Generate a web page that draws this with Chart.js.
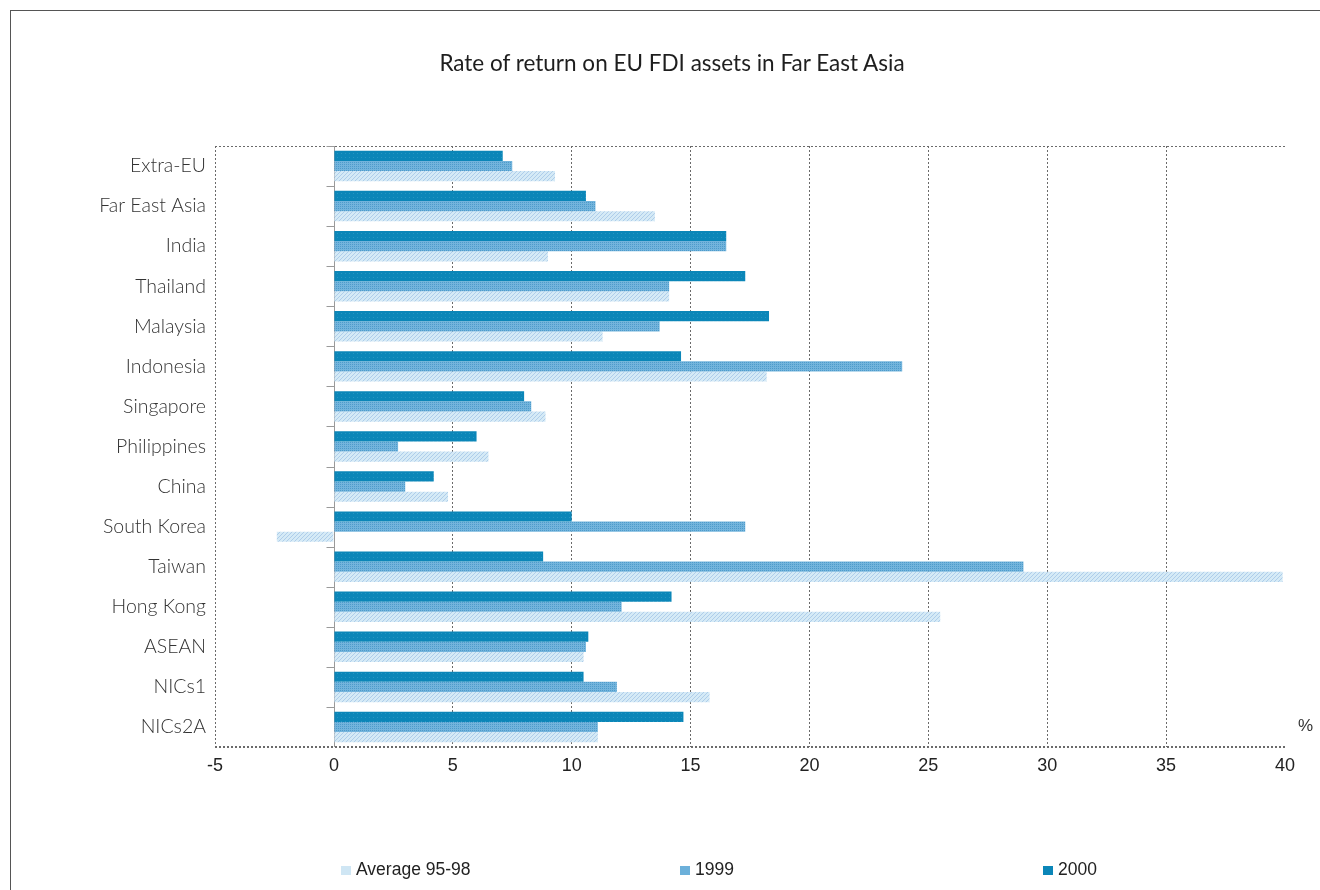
<!DOCTYPE html>
<html>
<head>
<meta charset="utf-8">
<title>Rate of return on EU FDI assets in Far East Asia</title>
<script src="https://cdn.jsdelivr.net/npm/chart.js@4.4.1/dist/chart.umd.min.js"></script>
<style>
  html, body { margin: 0; padding: 0; background: #fff; }
  #wrap { position: relative; width: 1320px; height: 890px; overflow: hidden; }
  #frame { position: absolute; left: 10px; top: 10px; width: 1320px; height: 890px;
           border-left: 1px solid #555; border-top: 1px solid #555; }
  #chart { position: absolute; left: 0; top: 0; }
  #title { position: absolute; left: 372px; width: 600px; top: 49px; text-align: center; color: #1e1e1e;
           font: 22.5px Lato, "Noto Sans", sans-serif; }
  #pct { position: absolute; left: 1298px; top: 716px; color: #333;
         font: 17px "Liberation Sans Narrow", "Liberation Sans", sans-serif; }
  .leg { position: absolute; top: 859px; color: #222; white-space: nowrap;
         font: 17.5px "Liberation Sans Narrow", "Liberation Sans", sans-serif; }
  .leg i { display: inline-block; width: 10px; height: 9px; margin-right: 5px; vertical-align: 0px; }
</style>
</head>
<body>
<div id="wrap">
  <div id="frame"></div>
  <canvas id="chart" width="1320" height="890"></canvas>
  <div id="title">Rate of return on EU FDI assets in Far East Asia</div>
  <div id="pct">%</div>
  <div id="legend"></div>
</div>
<script>
const categories = ["Extra-EU", "Far East Asia", "India", "Thailand", "Malaysia", "Indonesia",
  "Singapore", "Philippines", "China", "South Korea", "Taiwan", "Hong Kong", "ASEAN", "NICs1", "NICs2A"];

const avg9598 = [9.3, 13.5, 9.0, 14.1, 11.3, 18.2, 8.9, 6.5, 4.8, -2.4, 39.9, 25.5, 10.5, 15.8, 11.1];
const y1999   = [7.5, 11.0, 16.5, 14.1, 13.7, 23.9, 8.3, 2.7, 3.0, 17.3, 29.0, 12.1, 10.6, 11.9, 11.1];
const y2000   = [7.1, 10.6, 16.5, 17.3, 18.3, 14.6, 8.0, 6.0, 4.2, 10.0, 8.8, 14.2, 10.7, 10.5, 14.7];

const xMin = -5, xMax = 40, xStep = 5;

// little textures like the printed chart
function makePattern(bg, fg, kind) {
  const c = document.createElement("canvas");
  c.width = 4; c.height = 4;
  const g = c.getContext("2d");
  g.fillStyle = bg;
  g.fillRect(0, 0, 4, 4);
  g.fillStyle = fg;
  if (kind === "diag") {
    g.fillRect(0, 3, 1, 1); g.fillRect(1, 2, 1, 1); g.fillRect(2, 1, 1, 1); g.fillRect(3, 0, 1, 1);
  } else if (kind === "cross") {
    g.fillRect(0, 0, 1, 1); g.fillRect(2, 2, 1, 1); g.fillRect(2, 0, 1, 1); g.fillRect(0, 2, 1, 1);
  } else {
    g.fillRect(1, 1, 1, 1);
  }
  return g.createPattern(c, "repeat");
}

const series = [
  { label: "2000", data: y2000, color: "#0b86b8", pattern: makePattern("#0b86b8", "#2596c2", "dots") },
  { label: "1999", data: y1999, color: "#6cb0da", pattern: makePattern("#73b4dc", "#4d9bcb", "cross") },
  { label: "Average 95-98", data: avg9598, color: "#cfe6f4", pattern: makePattern("#d5eaf6", "#aecdea", "diag") },
];

// dotted frame, zero line and the small ticks on it
const framePlugin = {
  id: "frame",
  beforeDatasetsDraw(chart) {
    const { ctx, chartArea: a, scales: { x, y } } = chart;
    const line = (x1, y1, x2, y2) => { ctx.beginPath(); ctx.moveTo(x1, y1); ctx.lineTo(x2, y2); ctx.stroke(); };
    ctx.save();
    ctx.strokeStyle = "#6a6a6a";
    ctx.setLineDash([2, 2]);
    ctx.lineWidth = 1;
    line(a.left, a.top + 0.5, a.right, a.top + 0.5);
    line(a.left + 0.5, a.top, a.left + 0.5, a.bottom);
    ctx.lineWidth = 2;
    line(a.left, a.bottom, a.right, a.bottom);
    ctx.setLineDash([]);
    ctx.lineWidth = 1;
    ctx.strokeStyle = "#9a9a9a";
    const x0 = Math.round(x.getPixelForValue(0)) + 0.5;
    line(x0, a.top, x0, a.bottom);
    const half = (y.getPixelForValue(1) - y.getPixelForValue(0)) / 2;
    for (let i = 0; i < categories.length; i++) {
      const yb = Math.round(y.getPixelForValue(i) - half) + 0.5;
      line(x0 - 8, yb, x0, yb);
    }
    ctx.restore();
  }
};

new Chart(document.getElementById("chart"), {
  type: "bar",
  data: {
    labels: categories,
    datasets: series.map(s => ({
      label: s.label,
      data: s.data,
      backgroundColor: s.pattern,
      borderWidth: 0,
      categoryPercentage: 0.76,
      barPercentage: 1.0,
    })),
  },
  options: {
    indexAxis: "y",
    responsive: false,
    animation: false,
    layout: { padding: { left: 0, right: 35, top: 146, bottom: 103 } },
    plugins: {
      legend: { display: false },
      tooltip: { enabled: false },
    },
    scales: {
      x: {
        min: xMin,
        max: xMax,
        ticks: {
          stepSize: xStep,
          padding: 8,
          color: "#222",
          font: { family: "'Liberation Sans Narrow', 'Liberation Sans', sans-serif", size: 18 },
        },
        grid: {
          drawTicks: false,
          color: ctx => (ctx.tick && [0, xMin, xMax].includes(ctx.tick.value)) ? "rgba(0,0,0,0)" : "#6a6a6a",
          lineWidth: 1,
        },
        border: { display: false, dash: [2, 2] },
        afterFit: s => { s.height = 40; },
      },
      y: {
        ticks: {
          padding: 9,
          color: "#333",
          font: { family: "Lato, 'Noto Sans', sans-serif", size: 19.5, weight: 300 },
        },
        grid: { display: false, drawTicks: false },
        border: { display: false },
        afterFit: s => { s.width = 215; },
      },
    },
  },
  plugins: [framePlugin],
});

// legend under the chart, in the printed order
const legendSpots = [341, 680, 1043];
const legend = document.getElementById("legend");
series.slice().reverse().forEach((s, i) => {
  const d = document.createElement("div");
  d.className = "leg";
  d.style.left = legendSpots[i] + "px";
  d.innerHTML = '<i style="background:' + s.color + '"></i>' + s.label;
  legend.appendChild(d);
});
</script>
</body>
</html>
